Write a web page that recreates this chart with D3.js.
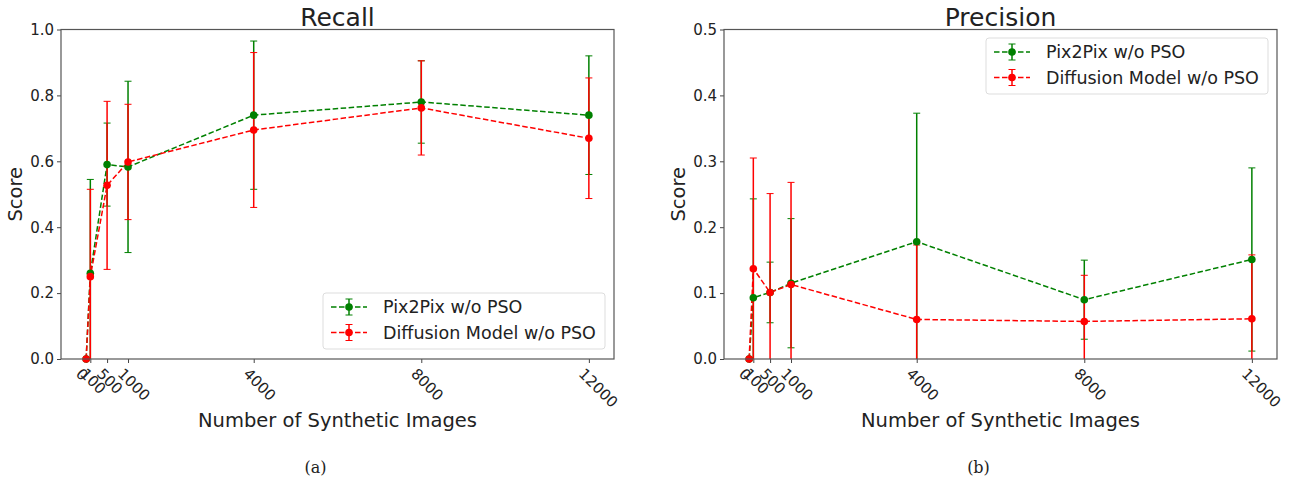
<!DOCTYPE html>
<html>
<head>
<meta charset="utf-8">
<script src="https://cdn.jsdelivr.net/npm/d3@7"></script>
<style>
  body { margin: 0; background: #fff; }
  text { font-family: "DejaVu Sans", sans-serif; fill: #222; }
</style>
</head>
<body>
<svg id="chart" width="1305" height="483"></svg>
<script>
// sample sizes on the x axis
var xVals = [0, 100, 500, 1000, 4000, 8000, 12000];
var xTickLabels = ["0", "100", "500", "1000", "4000", "8000", "12000"];

// recall (mean, std)
var recallPix = [0, 0.26, 0.59, 0.583, 0.74, 0.78, 0.74];
var recallPixErr = [0, 0.285, 0.126, 0.26, 0.225, 0.125, 0.18];
var recallDiff = [0, 0.25, 0.527, 0.598, 0.695, 0.762, 0.67];
var recallDiffErr = [0, 0.265, 0.255, 0.175, 0.235, 0.143, 0.183];

// precision (mean, std)
var precPix = [0, 0.093, 0.101, 0.115, 0.178, 0.09, 0.151];
var precPixErr = [0, 0.15, 0.046, 0.098, 0.195, 0.06, 0.139];
var precDiff = [0, 0.137, 0.101, 0.113, 0.06, 0.057, 0.061];
var precDiffErr = [0, 0.168, 0.15, 0.155, 0.113, 0.07, 0.097];

var seriesNames = ["Pix2Pix w/o PSO", "Diffusion Model w/o PSO"];
var colors = ["#008000", "#ff0000"];

var svg = d3.select("#chart");

function panel(opt) {
  var w = 553, h = 329.5;
  var g = svg.append("g").attr("transform", "translate(" + opt.left + ",29.5)");

  var x = d3.scaleLinear().domain([-600, 12600]).range([0, w]);
  var y = d3.scaleLinear().domain([0, opt.ymax]).range([h, 0]);

  var clipId = "clip" + opt.id;
  g.append("clipPath").attr("id", clipId)
    .append("rect").attr("width", w).attr("height", h);

  // y axis
  var yAxis = g.append("g").call(d3.axisLeft(y).tickValues(opt.yTicks)
      .tickFormat(d3.format(".1f")).tickSize(4).tickPadding(3));
  yAxis.select(".domain").remove();
  yAxis.selectAll("text").style("font-size", "15px").style("fill", "#222");
  yAxis.selectAll("line").attr("stroke", "#444");

  // x axis with rotated labels
  var xAxis = g.append("g").attr("transform", "translate(0," + h + ")")
    .call(d3.axisBottom(x).tickValues(xVals).tickFormat(function (d, i) { return xTickLabels[i]; })
      .tickSize(4).tickPadding(3));
  xAxis.select(".domain").remove();
  xAxis.selectAll("line").attr("stroke", "#444");
  xAxis.selectAll("text")
    .style("font-size", "15px").style("fill", "#222")
    .attr("text-anchor", "start")
    .attr("dy", "0.35em")
    .attr("transform", "translate(-3,7) rotate(45)");

  var plot = g.append("g").attr("clip-path", "url(#" + clipId + ")");

  opt.series.forEach(function (s, si) {
    var c = colors[si];
    var pts = xVals.map(function (xv, i) { return { x: xv, y: s.mean[i], e: s.err[i] }; });

    var line = d3.line().x(function (d) { return x(d.x); }).y(function (d) { return y(d.y); });
    plot.append("path").datum(pts)
      .attr("d", line).attr("fill", "none").attr("stroke", c)
      .attr("stroke-width", 1.5).attr("stroke-dasharray", "5.5,2.5");

    var bars = plot.selectAll(".bar" + si).data(pts.filter(function (d) { return d.e > 0; }))
      .enter().append("g");
    bars.append("line")
      .attr("x1", function (d) { return x(d.x); }).attr("x2", function (d) { return x(d.x); })
      .attr("y1", function (d) { return y(d.y - d.e); }).attr("y2", function (d) { return y(d.y + d.e); })
      .attr("stroke", c).attr("stroke-width", 1.5);
    [-1, 1].forEach(function (sign) {
      bars.append("line")
        .attr("x1", function (d) { return x(d.x) - 3.5; }).attr("x2", function (d) { return x(d.x) + 3.5; })
        .attr("y1", function (d) { return y(d.y + sign * d.e); }).attr("y2", function (d) { return y(d.y + sign * d.e); })
        .attr("stroke", c).attr("stroke-width", 1);
    });

    g.selectAll(".pt" + si).data(pts).enter().append("circle")
      .attr("cx", function (d) { return x(d.x); }).attr("cy", function (d) { return y(d.y); })
      .attr("r", 3.8).attr("fill", c);
  });

  // frame
  g.append("rect").attr("width", w).attr("height", h)
    .attr("fill", "none").attr("stroke", "#555").attr("stroke-width", 1.2);

  // titles
  g.append("text").attr("x", w / 2).attr("y", -4).attr("text-anchor", "middle")
    .style("font-size", "25px").text(opt.title);
  g.append("text").attr("transform", "translate(-39," + (h / 2) + ") rotate(-90)")
    .attr("text-anchor", "middle").style("font-size", "19.5px").text("Score");
  g.append("text").attr("x", w / 2).attr("y", 397.5).attr("text-anchor", "middle")
    .style("font-size", "19.5px").text("Number of Synthetic Images");
  g.append("text").attr("x", w / 2 - 22).attr("y", 443).attr("text-anchor", "middle")
    .style("font-family", "'DejaVu Serif', serif").style("font-size", "16px").text(opt.sub);

  // legend
  var lg = g.append("g").attr("transform", "translate(" + opt.legX + "," + opt.legY + ")");
  lg.append("rect").attr("width", 282).attr("height", 56).attr("rx", 3)
    .attr("fill", "#fff").attr("fill-opacity", 0.8).attr("stroke", "#ddd");
  seriesNames.forEach(function (name, i) {
    var cy = 14 + i * 25.5, c = colors[i];
    lg.append("line").attr("x1", 8).attr("x2", 44).attr("y1", cy).attr("y2", cy)
      .attr("stroke", c).attr("stroke-width", 1.5).attr("stroke-dasharray", "5.5,2.5");
    lg.append("line").attr("x1", 26).attr("x2", 26).attr("y1", cy - 8).attr("y2", cy + 8)
      .attr("stroke", c).attr("stroke-width", 1.5);
    lg.append("line").attr("x1", 22.5).attr("x2", 29.5).attr("y1", cy - 8).attr("y2", cy - 8).attr("stroke", c);
    lg.append("line").attr("x1", 22.5).attr("x2", 29.5).attr("y1", cy + 8).attr("y2", cy + 8).attr("stroke", c);
    lg.append("circle").attr("cx", 26).attr("cy", cy).attr("r", 3.8).attr("fill", c);
    lg.append("text").attr("x", 60).attr("y", cy).attr("dy", "0.35em")
      .style("font-size", "17.5px").text(name);
  });
}

panel({
  id: "a", left: 61, ymax: 1.0, yTicks: [0, 0.2, 0.4, 0.6, 0.8, 1.0], title: "Recall", sub: "(a)",
  series: [{ mean: recallPix, err: recallPixErr }, { mean: recallDiff, err: recallDiffErr }],
  legX: 262, legY: 263.5
});
panel({
  id: "b", left: 724, ymax: 0.5, yTicks: [0, 0.1, 0.2, 0.3, 0.4, 0.5], title: "Precision", sub: "(b)",
  series: [{ mean: precPix, err: precPixErr }, { mean: precDiff, err: precDiffErr }],
  legX: 262, legY: 8.5
});
</script>
</body>
</html>
